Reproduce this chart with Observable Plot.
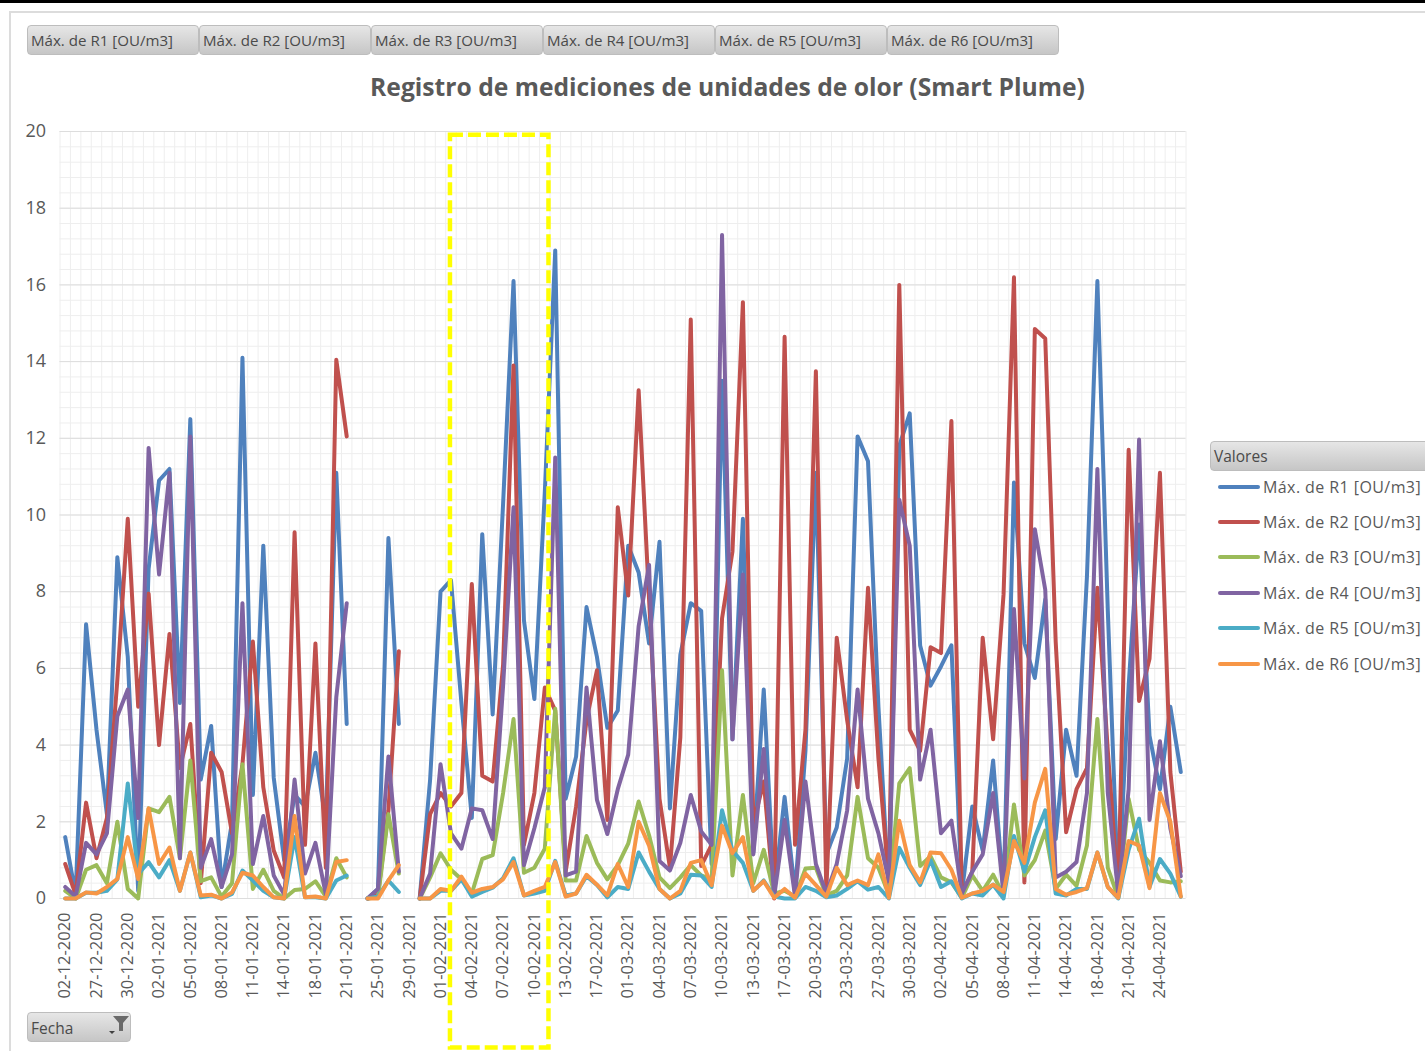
<!DOCTYPE html>
<html lang="es">
<head>
<meta charset="utf-8">
<script src="https://cdn.jsdelivr.net/npm/d3@7"></script>
<script src="https://cdn.jsdelivr.net/npm/@observablehq/plot@0.6"></script>
<style>
html,body{margin:0;padding:0;background:#fff;width:1425px;height:1051px;overflow:hidden;font-family:"Open Sans",sans-serif}
#page{position:relative;width:1425px;height:1051px;overflow:hidden}
.abs{position:absolute}
.btn{position:absolute;box-sizing:border-box;height:30px;background:linear-gradient(#e6e6e6,#c6c6c6);border:1px solid #bdbdbd;border-radius:4px;color:#4a4a4a;font-size:15.1px;line-height:29px;padding-left:3px;white-space:nowrap}
.leg{position:absolute;left:1263px;color:#595959;font-size:16px;letter-spacing:.42px;line-height:20px;white-space:nowrap}
.sw{position:absolute;left:1218px;width:42px;height:4px;border-radius:2px}
#title{position:absolute;left:270px;width:915px;top:70px;text-align:center;font-size:24.65px;font-weight:700;color:#595959;line-height:34px;white-space:nowrap}
</style>
</head>
<body>
<div id="page"></div>
<script>
const seriesNames = ["Máx. de R1 [OU/m3]","Máx. de R2 [OU/m3]","Máx. de R3 [OU/m3]","Máx. de R4 [OU/m3]","Máx. de R5 [OU/m3]","Máx. de R6 [OU/m3]"];
const seriesColors = ["#4F81BD","#C0504D","#9BBB59","#8064A2","#4BACC6","#F79646"];
const tickLabels = ["02-12-2020","27-12-2020","30-12-2020","02-01-2021","05-01-2021","08-01-2021","11-01-2021","14-01-2021","18-01-2021","21-01-2021","25-01-2021","29-01-2021","01-02-2021","04-02-2021","07-02-2021","10-02-2021","13-02-2021","17-02-2021","01-03-2021","04-03-2021","07-03-2021","10-03-2021","13-03-2021","17-03-2021","20-03-2021","23-03-2021","27-03-2021","30-03-2021","02-04-2021","05-04-2021","08-04-2021","11-04-2021","14-04-2021","18-04-2021","21-04-2021","24-04-2021"];
const R1 = [1.6,.1,7.15,4.4,2.2,8.9,6.3,.2,8.6,10.9,
11.2,5.1,12.5,3.1,4.5,.3,2,14.1,2.7,9.2,
3.15,1,2.7,2.4,3.8,2,11.1,4.55,null,0,
.25,9.4,4.55,null,0,3.1,8,8.3,5.1,2.1,
9.5,4.8,10.3,16.1,7.25,5.2,10.6,16.9,2.6,3.7,
7.6,6.3,4.45,4.9,9.2,8.5,6.65,9.3,2.35,6.35,
7.7,7.5,.9,13.5,4.15,9.9,1.2,5.45,.15,2.65,
.15,3.85,11.1,1.15,1.85,3.65,12.05,11.4,5,.15,
11.8,12.65,6.6,5.55,6.05,6.6,.13,2.4,1.25,3.6,
.13,10.85,6.65,5.75,7.8,1.55,4.4,3.2,8.4,16.1,
7.5,.1,5.55,9.75,4.25,2.85,5,3.3];
const R2 = [.9,.1,2.5,1.05,2.1,5.7,9.9,5,7.95,4,
6.9,3.4,4.55,.4,3.8,3.3,1.7,3.5,6.7,2.9,
1.25,.55,9.55,1.4,6.65,.8,14.05,12.05,null,0,
.1,2.3,6.45,null,0,2.2,2.75,2.4,2.75,8.2,
3.2,3.05,6.1,13.9,1.4,2.75,5.5,4.9,.7,2.4,
4.65,5.95,2.05,10.2,7.9,13.25,7.8,2.6,.8,4.2,
15.1,.85,1.4,7.3,9.05,15.55,1.95,3.05,0,14.65,
1.4,4.4,13.75,.2,6.8,4.65,2.9,8.1,3.65,.45,
16,4.4,3.85,6.55,6.4,12.45,.13,.7,6.8,4.15,
7.93,16.2,.42,14.85,14.6,6.7,1.73,2.85,3.4,8.1,
3.85,.13,11.7,5.15,6.25,11.1,3.3,.7];
const R3 = [.2,0,.75,.87,.4,2,.25,0,2.35,2.25,
2.65,1.05,3.6,.45,.55,.05,.4,3.5,.25,.75,
.2,0,.22,.25,.45,.05,1.05,.55,null,0,
.03,2.2,.65,null,0,.55,1.18,.75,.5,.13,
1.03,1.13,2.75,4.68,.67,.8,1.3,4.95,.47,.47,
1.63,.93,.5,.87,1.43,2.53,1.65,.55,.27,.55,
.87,.6,.5,5.95,.6,2.7,.4,1.27,.13,.2,
.05,.78,.8,.08,.2,.6,2.65,1.05,.8,.1,
3,3.4,.85,1.1,.55,.42,.02,.6,.2,.62,
.08,2.45,.6,1,1.77,.25,.62,.33,1.38,4.68,
.8,.02,2.6,1.27,.93,.47,.42,.45];
const R4 = [.3,.05,1.45,1.15,1.7,4.75,5.45,2.1,11.75,8.45,
11.1,1.05,12.05,.8,1.55,.3,1.15,7.7,.9,2.15,
.6,.1,3.1,.65,1.45,.1,5.25,7.7,null,0,
.25,3.7,.7,null,0,.65,3.5,1.7,1.3,2.35,
2.3,1.55,5.55,10.2,.87,1.83,2.9,11.5,.6,.7,
5.5,2.57,1.68,2.85,3.75,7.1,8.7,.98,.73,1.45,
2.7,1.75,1.4,17.3,4.15,8.45,1.15,3.9,.05,2.05,
.05,3.05,.9,.13,.9,2.3,5.45,2.6,1.7,.45,
10.4,9.2,3.1,4.4,1.7,2.03,.13,.7,1.15,2.75,
.13,7.55,3.13,9.63,8.05,.55,.7,.95,2.75,11.2,
2.75,.13,2.85,11.97,2.05,4.1,1.83,.58];
const R5 = [0,0,.15,.15,.2,.5,3,.64,.95,.55,
1,.2,1.2,.03,.08,0,.12,.73,.47,.2,
.03,0,1.6,.03,.03,0,.47,.6,null,0,
.05,.47,.17,null,0,0,.2,.2,.5,.05,
.17,.28,.53,1.05,.08,.13,.2,.98,.08,.13,
.58,.35,.03,.3,.25,1.2,.7,.25,0,.13,
.62,.6,.3,2.3,1.25,.93,.2,.47,.05,0,
0,.3,.2,.03,.08,.25,.45,.23,.3,0,
1.32,.8,.35,1,.3,.45,0,.13,.08,.36,
0,1.63,.7,1.6,2.3,.13,.08,.25,.25,1.2,
.3,0,1.27,2.08,.3,1.03,.65,.05];
const R6 = [0,0,.16,.13,.3,.51,1.6,.51,2.35,.9,
1.33,.2,1.2,.08,.1,0,.16,.67,.6,.3,
.03,0,2.15,.03,.05,0,.95,1,null,0,
0,.47,.87,null,0,0,.25,.2,.57,.15,
.25,.3,.5,.95,.08,.2,.3,.95,.05,.13,
.62,.36,.08,.9,.3,2,1.38,.25,0,.2,
.93,1,.35,1.9,1.18,1.6,.2,.45,.02,.25,
.02,.65,.35,.05,.8,.35,.47,.35,1.15,.02,
2.03,.87,.42,1.2,1.18,.75,.02,.13,.2,.36,
.17,1.5,.93,2.5,3.38,.25,.1,.17,.27,1.2,
.3,.02,1.5,1.38,.27,2.75,2,.05];
const allSeries = [R1,R2,R3,R4,R5,R6];

const rows = allSeries.flatMap((vals,s)=>vals.map((v,i)=>({i,v,s:seriesNames[s]})));
const nCats = R1.length;
const tickEvery = 3;
const tickIdx = tickLabels.map((_,k)=>k*tickEvery);
const highlight = [{x1:36.95,x2:46.4,y1:-3.9,y2:19.9}];

const plot = Plot.plot({
  width:1425, height:1051,
  marginLeft:59.5, marginRight:239.5, marginTop:131, marginBottom:153,
  style:{fontFamily:'"Open Sans",sans-serif',fontSize:"16.5px",color:"#595959",background:"transparent",overflow:"visible"},
  x:{type:"linear",domain:[-.5,nCats-.5],axis:null},
  y:{type:"linear",domain:[0,20],axis:null},
  color:{domain:seriesNames,range:seriesColors},
  marks:[
    Plot.ruleX(d3.range(nCats+1).map(i=>i-.5),{stroke:"#eeeeee",strokeWidth:1}),
    Plot.ruleY(d3.range(0,20.01,.4),{stroke:"#eeeeee",strokeWidth:1}),
    Plot.ruleY(d3.range(0,21,2),{stroke:"#dddddd",strokeWidth:1}),
    Plot.axisY({ticks:d3.range(0,21,2),tickSize:0,tickPadding:14,label:null,fontSize:18}),
    Plot.axisX({ticks:tickIdx,tickFormat:i=>tickLabels[i/tickEvery],tickRotate:-90,tickSize:0,tickPadding:14,label:null}),
    Plot.line(rows,{x:"i",y:"v",z:"s",stroke:"s",strokeWidth:4,strokeLinejoin:"round",strokeLinecap:"round"}),
    Plot.rect(highlight,{x1:"x1",x2:"x2",y1:"y1",y2:"y2",fill:"none",stroke:"#FFFF00",strokeWidth:4.5,strokeDasharray:"13,5"})
  ]
});

const page = document.getElementById("page");
plot.style.position="absolute"; plot.style.left="0"; plot.style.top="0";
page.appendChild(plot);
function div(cls,text,css){const d=document.createElement("div");d.className=cls;if(text)d.textContent=text;Object.assign(d.style,css||{});page.appendChild(d);return d;}
div("abs","",{left:"0",top:"0",width:"1425px",height:"3px",background:"#000"});
div("abs","",{left:"10px",top:"11px",width:"1415px",height:"2px",background:"#dcdcdc"});
div("abs","",{left:"9px",top:"11px",width:"2px",height:"1040px",background:"#dcdcdc"});
seriesNames.forEach((n,k)=>div("btn",n,{left:(27+k*172)+"px",top:"25px",width:"172px"}));
div("","Registro de mediciones de unidades de olor (Smart Plume)",{}).id="title";
div("btn","Valores",{left:"1210px",top:"441px",width:"230px",fontSize:"15.5px"});
const legY=[487,522,557,593,628,664];
seriesNames.forEach((n,k)=>{
  div("sw","",{top:(legY[k]-2)+"px",background:seriesColors[k]});
  div("leg",n,{top:(legY[k]-10)+"px"});
});
const f=div("btn","Fecha",{left:"27px",top:"1012px",width:"104px",fontSize:"15.5px",lineHeight:"31px"});
const ns="http://www.w3.org/2000/svg";
const ic=document.createElementNS(ns,"svg");
ic.setAttribute("width","26");ic.setAttribute("height","20");
ic.style.cssText="position:absolute;left:78px;top:1px";
ic.innerHTML='<polygon points="7,2 23,2 17,9 17,17 13,17 13,9" fill="#6a6a6a"/><polygon points="3,17 9,17 6,20" fill="#404040"/>';
f.appendChild(ic);
</script>
</body>
</html>
